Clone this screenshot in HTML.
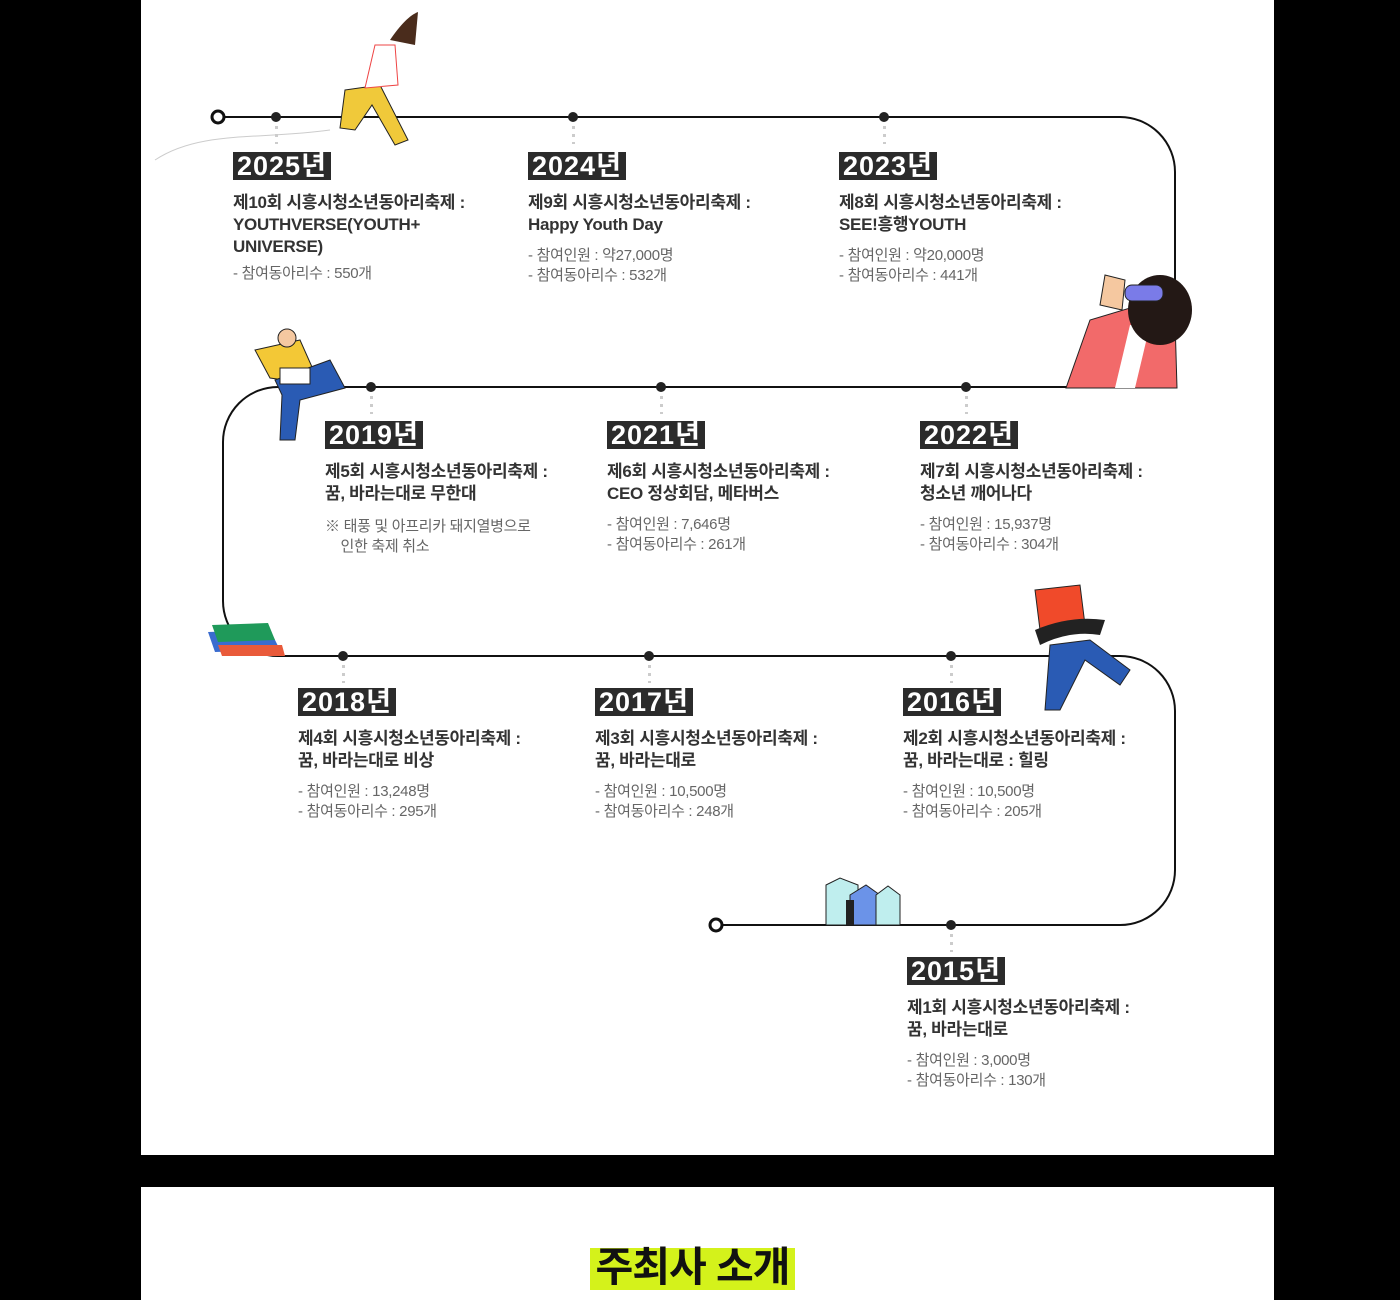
<!DOCTYPE html>
<html><head><meta charset="utf-8"><style>
body{margin:0;width:1400px;height:1300px;background:#000;position:relative;overflow:hidden;font-family:"Liberation Sans","Noto Sans CJK KR",sans-serif}
.panel{position:absolute;left:141px;width:1133px;background:#fff}
.it{position:absolute;width:270px}
.yr{display:inline-block;background:#2b2b2b;color:#fff;font-weight:bold;font-size:27px;line-height:28px;padding:0 4px;letter-spacing:1px}
.t{margin-top:12px;font-size:17px;font-weight:bold;color:#333;line-height:22px;letter-spacing:-0.3px}
.d{margin-top:10px;font-size:15px;color:#666;line-height:20px;letter-spacing:-0.3px}
.dot{position:absolute;width:10px;height:10px;border-radius:50%;background:#222}
.dv{position:absolute;width:3px;height:18px;background:repeating-linear-gradient(#ccc 0 3px,transparent 3px 8px)}
</style></head><body>
<div class="panel" style="top:0;height:1155px"></div>
<div class="panel" style="top:1187px;height:113px"></div>
<div style="position:absolute;left:590px;top:1248px;width:205px;height:42px;background:#d4f21b"></div>
<div style="position:absolute;left:585px;top:1242px;width:215px;text-align:center;font-size:41px;line-height:50px;font-weight:bold;color:#111;letter-spacing:-1px">주최사 소개</div>
<svg style="position:absolute;left:0;top:0" width="1400" height="1300">
<g fill="none" stroke="#111" stroke-width="2">
<path d="M224 117 H1120 A55 55 0 0 1 1175 172 V387 H278 A55 55 0 0 0 223 442 V601 A55 55 0 0 0 278 656 H1120 A55 55 0 0 1 1175 711 V870 A55 55 0 0 1 1120 925 H722"/>
</g>
<circle cx="218" cy="117" r="6" fill="#fff" stroke="#111" stroke-width="3"/>
<circle cx="716" cy="925" r="6" fill="#fff" stroke="#111" stroke-width="3"/>
<path d="M155 160 C200 130 260 140 330 130" stroke="#ccc" fill="none"/>
<path d="M345 90 L380 85 L408 140 L395 145 L372 105 L355 130 L340 128Z" fill="#f0c93a" stroke="#222"/>
<path d="M375 45 L395 45 L398 85 L365 88Z" fill="#fff" stroke="#e44"/>
<path d="M390 40 C400 25 410 15 418 12 L415 45 Z" fill="#4a2c1c"/>
<path d="M1066 388 L1090 320 L1140 305 L1175 320 L1177 388Z" fill="#f26a6a" stroke="#222"/>
<path d="M1115 388 L1130 325 L1150 325 L1135 388Z" fill="#fff"/>
<ellipse cx="1160" cy="310" rx="32" ry="35" fill="#231815"/>
<rect x="1125" y="285" width="38" height="16" rx="7" fill="#7a7be8" stroke="#222"/>
<path d="M1100 305 L1105 275 L1125 280 L1122 310Z" fill="#f5c8a0" stroke="#222"/>
<path d="M255 350 L300 340 L320 385 L270 378Z" fill="#f3c836" stroke="#222"/>
<path d="M275 380 L330 360 L345 388 L300 400 L295 440 L280 440 L282 395Z" fill="#2a5bb4" stroke="#222"/>
<rect x="280" y="368" width="30" height="16" fill="#fff" stroke="#222"/>
<circle cx="287" cy="338" r="9" fill="#f5c8a0" stroke="#222"/>
<path d="M208 632 L270 630 L280 650 L215 652Z" fill="#3a6ccf"/>
<path d="M212 625 L268 623 L275 640 L218 642Z" fill="#1f9a5a"/>
<path d="M218 645 L282 645 L285 656 L222 656Z" fill="#e95a3a"/>
<path d="M1035 590 L1080 585 L1085 625 L1040 630Z" fill="#f04a2a" stroke="#222"/>
<path d="M1035 630 Q1070 615 1105 620 L1100 635 Q1070 630 1040 645Z" fill="#222"/>
<path d="M1050 645 L1090 640 L1130 670 L1120 685 L1085 660 L1060 710 L1045 710Z" fill="#2a5bb4" stroke="#222"/>
<path d="M826 885 L840 878 L858 885 V925 H826Z" fill="#bfeeee" stroke="#222"/>
<path d="M850 925 V895 L866 885 L880 895 V925Z" fill="#6b93e8" stroke="#222"/>
<path d="M876 925 V895 L888 886 L900 895 V925Z" fill="#bfeeee" stroke="#222"/>
<rect x="846" y="900" width="8" height="25" fill="#222"/>
</svg>
<div class="dot" style="left:271px;top:112px"></div><div class="dv" style="left:275px;top:126px"></div>
<div class="dot" style="left:568px;top:112px"></div><div class="dv" style="left:572px;top:126px"></div>
<div class="dot" style="left:879px;top:112px"></div><div class="dv" style="left:883px;top:126px"></div>
<div class="dot" style="left:366px;top:382px"></div><div class="dv" style="left:370px;top:396px"></div>
<div class="dot" style="left:656px;top:382px"></div><div class="dv" style="left:660px;top:396px"></div>
<div class="dot" style="left:961px;top:382px"></div><div class="dv" style="left:965px;top:396px"></div>
<div class="dot" style="left:338px;top:651px"></div><div class="dv" style="left:342px;top:665px"></div>
<div class="dot" style="left:644px;top:651px"></div><div class="dv" style="left:648px;top:665px"></div>
<div class="dot" style="left:946px;top:651px"></div><div class="dv" style="left:950px;top:665px"></div>
<div class="dot" style="left:946px;top:920px"></div><div class="dv" style="left:950px;top:934px"></div>

<div class="it" style="left:233px;top:152px"><span class="yr">2025년</span><div class="t">제10회 시흥시청소년동아리축제 :<br>YOUTHVERSE(YOUTH+<br>UNIVERSE)</div><div class="d" style="margin-top:6px">- 참여동아리수 : 550개</div></div>
<div class="it" style="left:528px;top:152px"><span class="yr">2024년</span><div class="t">제9회 시흥시청소년동아리축제 :<br>Happy Youth Day</div><div class="d">- 참여인원 : 약27,000명<br>- 참여동아리수 : 532개</div></div>
<div class="it" style="left:839px;top:152px"><span class="yr">2023년</span><div class="t">제8회 시흥시청소년동아리축제 :<br>SEE!흥행YOUTH</div><div class="d">- 참여인원 : 약20,000명<br>- 참여동아리수 : 441개</div></div>

<div class="it" style="left:325px;top:421px;width:260px"><span class="yr">2019년</span><div class="t">제5회 시흥시청소년동아리축제 :<br>꿈, 바라는대로 무한대</div><div class="d" style="margin-top:12px">※ 태풍 및 아프리카 돼지열병으로<br>&nbsp;&nbsp;&nbsp;&nbsp;인한 축제 취소</div></div>
<div class="it" style="left:607px;top:421px"><span class="yr">2021년</span><div class="t">제6회 시흥시청소년동아리축제 :<br>CEO 정상회담, 메타버스</div><div class="d">- 참여인원 : 7,646명<br>- 참여동아리수 : 261개</div></div>
<div class="it" style="left:920px;top:421px"><span class="yr">2022년</span><div class="t">제7회 시흥시청소년동아리축제 :<br>청소년 깨어나다</div><div class="d">- 참여인원 : 15,937명<br>- 참여동아리수 : 304개</div></div>

<div class="it" style="left:298px;top:688px"><span class="yr">2018년</span><div class="t">제4회 시흥시청소년동아리축제 :<br>꿈, 바라는대로 비상</div><div class="d">- 참여인원 : 13,248명<br>- 참여동아리수 : 295개</div></div>
<div class="it" style="left:595px;top:688px"><span class="yr">2017년</span><div class="t">제3회 시흥시청소년동아리축제 :<br>꿈, 바라는대로</div><div class="d">- 참여인원 : 10,500명<br>- 참여동아리수 : 248개</div></div>
<div class="it" style="left:903px;top:688px"><span class="yr">2016년</span><div class="t">제2회 시흥시청소년동아리축제 :<br>꿈, 바라는대로 : 힐링</div><div class="d">- 참여인원 : 10,500명<br>- 참여동아리수 : 205개</div></div>

<div class="it" style="left:907px;top:957px"><span class="yr">2015년</span><div class="t">제1회 시흥시청소년동아리축제 :<br>꿈, 바라는대로</div><div class="d">- 참여인원 : 3,000명<br>- 참여동아리수 : 130개</div></div>
</body></html>
